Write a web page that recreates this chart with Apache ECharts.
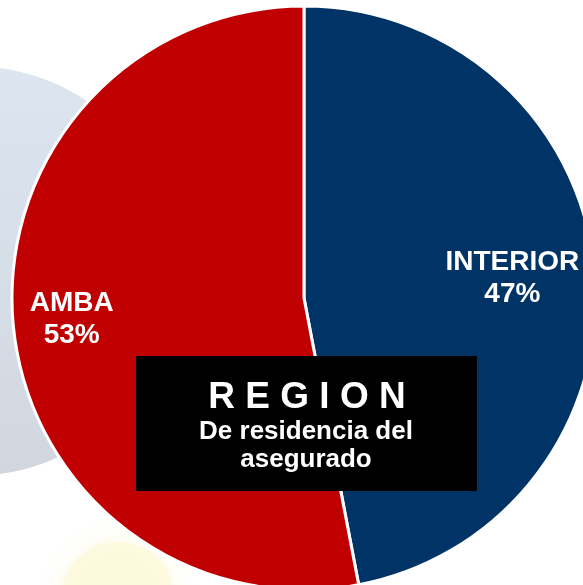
<!DOCTYPE html>
<html>
<head>
<meta charset="utf-8">
<script src="https://cdn.jsdelivr.net/npm/echarts@6/dist/echarts.min.js"></script>
<style>
html,body{margin:0;padding:0;background:#fff;}
#chart{width:583px;height:585px;}
</style>
</head>
<body>
<div id="chart"></div>
<script>
// Data
const categories = ['INTERIOR', 'AMBA'];
const shares = [47, 53];
const sliceColors = ['#003366', '#C00000'];
const titleMain = 'R E G I O N';
const titleSub = ['De residencia del', 'asegurado'];

// Label nudges (style)
const labelShift = [[60, -6], [-84, 7]];

const FONT = '"Liberation Sans", Arial, Helvetica, sans-serif';
const chart = echarts.init(document.getElementById('chart'), null, {renderer: 'canvas'});

chart.setOption({
  backgroundColor: '#ffffff',
  animation: false,
  graphic: [
    {
      type: 'circle', z: 0, silent: true,
      shape: {cx: -28, cy: 271, r: 205},
      style: {
        fill: new echarts.graphic.LinearGradient(0, 0, 0, 1, [
          {offset: 0, color: '#dce5f0'},
          {offset: 0.5, color: '#d6dee8'},
          {offset: 1, color: '#d2d7de'}
        ])
      }
    },
    {
      type: 'ellipse', z: 0, silent: true,
      shape: {cx: 118, cy: 592, rx: 55, ry: 50},
      style: {fill: '#fdf9dc', opacity: 0.8, shadowBlur: 30, shadowColor: '#fdf9dc'}
    },
    {
      type: 'group', z: 100,
      children: [
        {type: 'rect', shape: {x: 136, y: 356, width: 341, height: 135}, style: {fill: '#000000'}, z: 100},
        {type: 'text', z: 101, style: {x: 307, y: 398, text: titleMain, fill: '#ffffff', font: 'bold 37px ' + FONT, align: 'center', verticalAlign: 'middle'}},
        {type: 'text', z: 101, style: {x: 306, y: 446, text: titleSub.join('\n'), fill: '#ffffff', font: 'bold 26px ' + FONT, lineHeight: 28, align: 'center', verticalAlign: 'middle'}}
      ]
    }
  ],
  series: [{
    type: 'pie',
    z: 2,
    center: [304, 298],
    radius: 292,
    startAngle: 90,
    clockwise: true,
    avoidLabelOverlap: false,
    itemStyle: {borderColor: '#ffffff', borderWidth: 3},
    label: {
      show: true,
      position: 'inside',
      color: '#ffffff',
      fontFamily: FONT,
      fontWeight: 'bold',
      fontSize: 28,
      lineHeight: 32,
      formatter: p => p.name + '\n' + p.value + '%'
    },
    labelLine: {show: false},
    labelLayout: params => ({dx: labelShift[params.dataIndex][0], dy: labelShift[params.dataIndex][1]}),
    emphasis: {disabled: true},
    data: categories.map((c, i) => ({name: c, value: shares[i], itemStyle: {color: sliceColors[i]}}))
  }]
});
</script>
</body>
</html>
